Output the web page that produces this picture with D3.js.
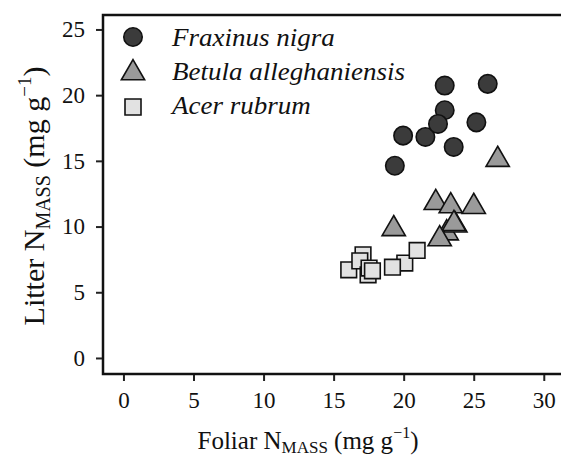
<!DOCTYPE html>
<html>
<head>
<meta charset="utf-8">
<script src="https://cdn.jsdelivr.net/npm/d3@7"></script>
<style>
  body { margin: 0; background: #fff; }
  svg text { font-family: "Liberation Serif", "Times New Roman", serif; fill: #111; }
</style>
</head>
<body>
<div class="chart"></div>
<script>
// species names (legend)
var species = ["Fraxinus nigra", "Betula alleghaniensis", "Acer rubrum"];

// foliar N (x) and litter N (y)
var fraxinusX = [19.37, 19.96, 21.55, 23.57, 22.93, 22.45, 25.19, 22.93, 26.0];
var fraxinusY = [14.63, 16.92, 16.82, 16.06, 18.85, 17.81, 17.93, 20.73, 20.86];

var betulaX = [26.71, 19.29, 22.29, 23.36, 25.0, 23.07, 23.69, 23.59, 22.57];
var betulaY = [15.09, 9.82, 11.81, 11.56, 11.51, 9.5, 10.1, 10.21, 9.05];

var acerX = [17.10, 16.08, 16.87, 17.46, 17.53, 17.77, 20.08, 19.20, 20.96];
var acerY = [7.85, 6.71, 7.39, 6.33, 6.84, 6.63, 7.22, 6.91, 8.18];

var xTicks = [0, 5, 10, 15, 20, 25, 30];
var yTicks = [0, 5, 10, 15, 20, 25];

var width = 561, height = 458;
var m = { left: 103, top: 15, right: 569, bottom: 374 };

var svg = d3.select(".chart").append("svg")
  .attr("width", width)
  .attr("height", height);

var x = d3.scaleLinear()
  .domain([-1.46, 31.8])
  .range([m.left, m.right]);

var y = d3.scaleLinear()
  .domain([-1.22, 26.1])
  .range([m.bottom, m.top]);

// frame (right side runs off the picture)
svg.append("path")
  .attr("d", "M" + m.right + "," + m.top + "H" + m.left + "V" + m.bottom + "H" + m.right)
  .attr("fill", "none")
  .attr("stroke", "#111")
  .attr("stroke-width", 2.5);

// axes
var xAxis = svg.append("g")
  .attr("transform", "translate(0," + (m.bottom + 1) + ")")
  .call(d3.axisBottom(x).tickValues(xTicks).tickSize(6).tickPadding(11).tickSizeOuter(0));

var yAxis = svg.append("g")
  .attr("transform", "translate(" + (m.left - 1) + ",0)")
  .call(d3.axisLeft(y).tickValues(yTicks).tickSize(6).tickPadding(11).tickSizeOuter(0));

[xAxis, yAxis].forEach(function(g) {
  g.select(".domain").remove();
  g.selectAll(".tick line").attr("stroke", "#222").attr("stroke-width", 2);
  g.selectAll(".tick text")
    .attr("font-family", "Liberation Serif, serif")
    .attr("font-size", 23)
    .attr("fill", "#111");
});
xAxis.selectAll(".tick text").attr("dy", "0.71em");

// symbols
var circleSym = d3.symbol().type(d3.symbolCircle).size(Math.PI * 85);
var triSym = d3.symbol().type(d3.symbolTriangle).size(235);
var squareSym = d3.symbol().type(d3.symbolSquare).size(245);

function zip(xs, ys) {
  return xs.map(function(v, i) { return [v, ys[i]]; });
}

var series = [
  { pts: zip(fraxinusX, fraxinusY), sym: circleSym, fill: "#3b3b3b" },
  { pts: zip(betulaX, betulaY), sym: triSym, fill: "#9a9a9a" },
  { pts: zip(acerX, acerY), sym: squareSym, fill: "#e2e2e2" }
];

series.forEach(function(s) {
  svg.append("g").selectAll("path")
    .data(s.pts)
    .enter().append("path")
      .attr("d", s.sym())
      .attr("transform", function(d) { return "translate(" + x(d[0]) + "," + y(d[1]) + ")"; })
      .attr("fill", s.fill)
      .attr("stroke", "#111")
      .attr("stroke-width", 1.6);
});

// legend
var legendSyms = [
  { sym: circleSym, fill: "#3b3b3b", cy: 37, ty: 46 },
  { sym: triSym, fill: "#9a9a9a", cy: 73, ty: 80 },
  { sym: d3.symbol().type(d3.symbolSquare).size(256), fill: "#e2e2e2", cy: 107, ty: 114 }
];

var legend = svg.append("g");
legendSyms.forEach(function(l, i) {
  legend.append("path")
    .attr("d", l.sym())
    .attr("transform", "translate(133," + l.cy + ")")
    .attr("fill", l.fill)
    .attr("stroke", "#111")
    .attr("stroke-width", 1.6);
  legend.append("text")
    .attr("transform", "translate(172," + l.ty + ") scale(1.08,1)")
    .attr("font-size", 25)
    .attr("font-style", "italic")
    .text(species[i]);
});

// axis titles
var xt = svg.append("text")
  .attr("x", 308)
  .attr("y", 449)
  .attr("text-anchor", "middle")
  .attr("font-size", 25);
xt.append("tspan").text("Foliar N");
xt.append("tspan").attr("font-size", 17).attr("dy", 4).text("MASS");
xt.append("tspan").attr("dy", -4).text(" (mg g");
xt.append("tspan").attr("font-size", 16).attr("dy", -11).text("\u22121");
xt.append("tspan").attr("dy", 11).text(")");

var yt = svg.append("text")
  .attr("transform", "translate(44,196) rotate(-90)")
  .attr("text-anchor", "middle")
  .attr("font-size", 30);
yt.append("tspan").text("Litter N");
yt.append("tspan").attr("font-size", 20).attr("dy", 6).text("MASS");
yt.append("tspan").attr("dy", -6).text(" (mg g");
yt.append("tspan").attr("font-size", 19).attr("dy", -13).text("\u22121");
yt.append("tspan").attr("dy", 13).text(")");
</script>
</body>
</html>
